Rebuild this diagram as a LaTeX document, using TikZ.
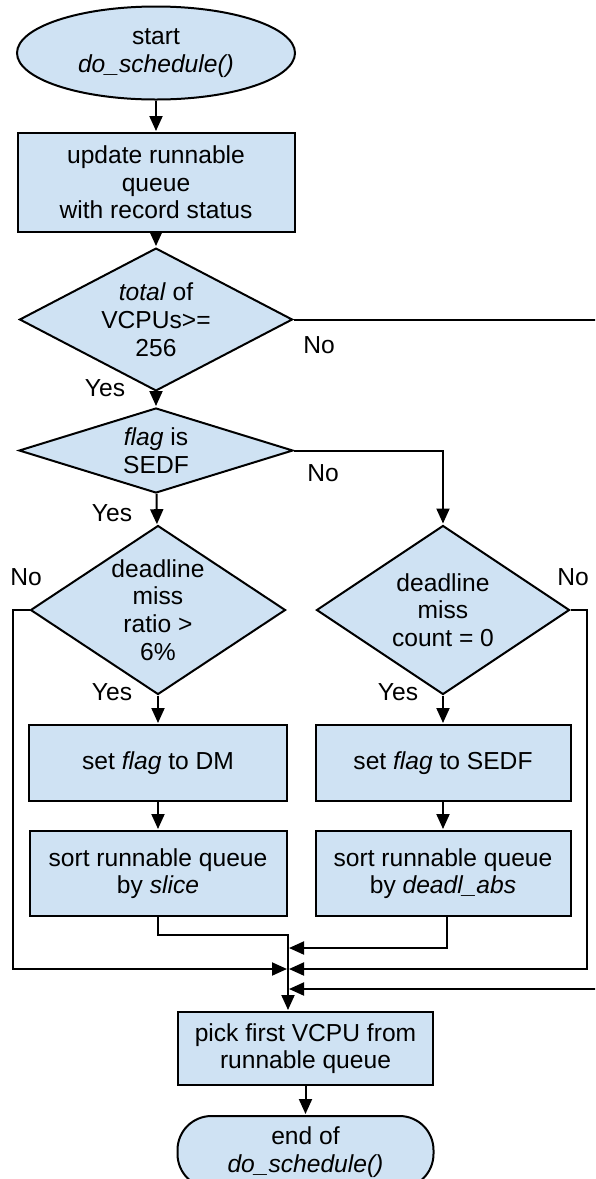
\documentclass[tikz,border=0pt]{standalone}
\usepackage{fontspec}
\setmainfont{Liberation Sans}
\usetikzlibrary{shapes.geometric,arrows.meta}

\begin{document}
\begin{tikzpicture}[x=1pt,y=1pt,
    font=\fontsize{24.6}{27.7}\selectfont,
    every node/.style={align=center},
    box/.style={rectangle, draw=black, line width=2pt, fill=Flow_blue, inner sep=0pt},
    decision/.style={diamond, draw=black, line width=2pt, fill=Flow_blue, inner sep=-10pt},
    startterm/.style={ellipse, draw=black, line width=2pt, fill=Flow_blue, inner sep=0pt},
    endterm/.style={rectangle, rounded corners=34pt, draw=black, line width=2pt, fill=Flow_blue, inner sep=0pt},
    arr/.style={line width=2pt, shorten >=1pt, -{Triangle[length=15pt,width=13pt]}}]
\definecolor{Flow_blue}{RGB}{207,226,243}
\useasboundingbox (0,0) rectangle (595,-1179);
\clip (0,0) rectangle (595,-1179);

% Knoten linke Spalte
\node[startterm, minimum width=278pt, minimum height=93pt] (start) at (156,-53) {start\\\textit{do\_schedule()}};
\node[box, minimum width=277pt, minimum height=99pt] (update) at (156,-182.5) {update runnable\\queue\\with record status};
\node[decision, minimum width=273pt, minimum height=117pt] (total) at (156,-319.5) {\textit{total} of\\VCPUs>=\\256};
\node[decision, minimum width=274pt, minimum height=85pt] (isSEDF) at (156,-450.5) {\textit{flag} is\\SEDF};
\node[decision, minimum width=255pt, minimum height=169pt] (ratio) at (158,-610) {deadline\\miss\\ratio >\\6\%};
\node[box, minimum width=258pt, minimum height=76pt] (setDM) at (158,-763) {set \textit{flag} to DM};
\node[box, minimum width=257pt, minimum height=85pt] (sortSlice) at (158,-873.5) {sort runnable queue\\by \textit{slice}};

% Knoten rechte Spalte
\node[decision, minimum width=253pt, minimum height=169pt] (count) at (443,-610) {deadline\\miss\\count = 0};
\node[box, minimum width=255pt, minimum height=76pt] (setSEDF) at (443,-763) {set \textit{flag} to SEDF};
\node[box, minimum width=255pt, minimum height=85pt] (sortAbs) at (443,-873.5) {sort runnable queue\\by \textit{deadl\_abs}};

% Ende
\node[box, minimum width=255pt, minimum height=73pt] (pick) at (305.5,-1048.5) {pick first VCPU from\\runnable queue};
\node[endterm, minimum width=256pt, minimum height=72pt] (finish) at (305.5,-1152) {end of\\\textit{do\_schedule()}};

% Sammelpunkte
\coordinate (joinA) at (288,-935);
\coordinate (joinB) at (288,-948);
\coordinate (joinC) at (288,-969);
\coordinate (joinD) at (288,-989);
\coordinate (leftRail) at (13,-969);
\coordinate (rightRail) at (587,-969);
\coordinate (offRail) at (620,-989);

% Verbindungen
\draw[arr] (start) -- (update);
\draw[arr] (update) -- (total);
\draw[arr] (total) -- (isSEDF);
\draw[arr] (isSEDF) -- (ratio);
\draw[arr] (isSEDF.east) -| (count.north);
\draw[arr] (ratio) -- (setDM);
\draw[arr] (setDM) -- (sortSlice);
\draw[arr] (count) -- (setSEDF);
\draw[arr] (setSEDF) -- (sortAbs);
\draw[arr] (sortSlice.south) |- (joinA) -- (joinA |- pick.north);
\draw[arr] ([xshift=4pt]sortAbs.south) |- (joinB);
\draw[arr] (ratio.west) -| (leftRail) -- (joinC);
\draw[arr] (count.east) -| (rightRail) -- (joinC);
\draw[arr] (total.east) -| (offRail) -- (joinD);
\draw[arr] (pick) -- (finish);

% Beschriftungen
\node (noTotal) at (319,-345) {No};
\node (yesTotal) at (105,-388) {Yes};
\node (noFlag) at (323,-473) {No};
\node (yesFlag) at (112,-513) {Yes};
\node (noRatio) at (26,-577) {No};
\node (noCount) at (573,-577) {No};
\node (yesRatio) at (112,-692) {Yes};
\node (yesCount) at (398,-692) {Yes};

\end{tikzpicture}
\end{document}
